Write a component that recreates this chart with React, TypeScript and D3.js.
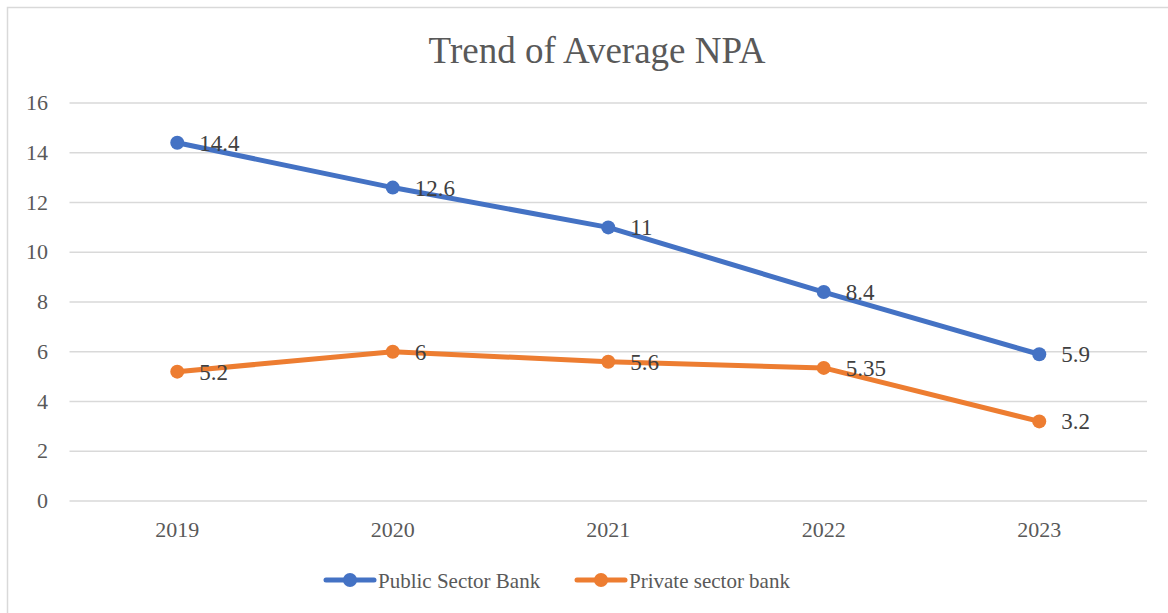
import React from "react";
import * as d3 from "d3";

const years = ["2019", "2020", "2021", "2022", "2023"];
const publicSector = [14.4, 12.6, 11, 8.4, 5.9];
const privateSector = [5.2, 6, 5.6, 5.35, 3.2];
const yTicks = [0, 2, 4, 6, 8, 10, 12, 14, 16];
const seriesNames = ["Public Sector Bank", "Private sector bank"];
const colors = ["#4472C4", "#ED7D31"];

export default function App() {
  const W = 1168, H = 613;
  const x = d3.scaleBand<string>().domain(years).range([69.5, 1147]);
  const y = d3.scaleLinear().domain([0, 16]).range([501, 103]);
  const cx = (d: string) => (x(d) as number) + x.bandwidth() / 2;
  const series = [publicSector, privateSector];
  const line = d3.line<number>().x((_, i) => cx(years[i])).y((v) => y(v));
  const font = "'Liberation Serif', 'Times New Roman', serif";
  const legendX = [326, 577];

  return (
    <svg width={W} height={H} style={{ position: "absolute", left: 0, top: 0, fontFamily: font }}>
      <rect x={0} y={0} width={W} height={H} fill="#fff" />
      <rect x={7.5} y={7.5} width={W + 20} height={H + 20} fill="#fff" stroke="#d9d9d9" strokeWidth={1.5} />
      <text x={597} y={63} textAnchor="middle" fontSize={37} fill="#595959">Trend of Average NPA</text>
      {yTicks.map((t) => (
        <g key={t}>
          <line x1={69.5} x2={1147} y1={y(t)} y2={y(t)} stroke="#d9d9d9" strokeWidth={1.5} />
          <text x={48} y={y(t) + 7} textAnchor="end" fontSize={22} fill="#595959">{t}</text>
        </g>
      ))}
      {years.map((yr) => (
        <text key={yr} x={cx(yr)} y={537} textAnchor="middle" fontSize={22} fill="#595959">{yr}</text>
      ))}
      {series.map((s, si) => (
        <g key={si}>
          <path d={line(s) as string} fill="none" stroke={colors[si]} strokeWidth={5} strokeLinejoin="round" strokeLinecap="round" />
          {s.map((v, i) => (
            <circle key={i} cx={cx(years[i])} cy={y(v)} r={7} fill={colors[si]} />
          ))}
          {s.map((v, i) => (
            <text key={"l" + i} x={cx(years[i]) + 22} y={y(v) + 8} fontSize={23} fill="#404040">{v}</text>
          ))}
        </g>
      ))}
      {seriesNames.map((n, si) => (
        <g key={n}>
          <line x1={legendX[si]} x2={legendX[si] + 48} y1={580} y2={580} stroke={colors[si]} strokeWidth={5} strokeLinecap="round" />
          <circle cx={legendX[si] + 24} cy={580} r={7} fill={colors[si]} />
          <text x={legendX[si] + 52} y={588} fontSize={21} fill="#595959">{n}</text>
        </g>
      ))}
    </svg>
  );
}
